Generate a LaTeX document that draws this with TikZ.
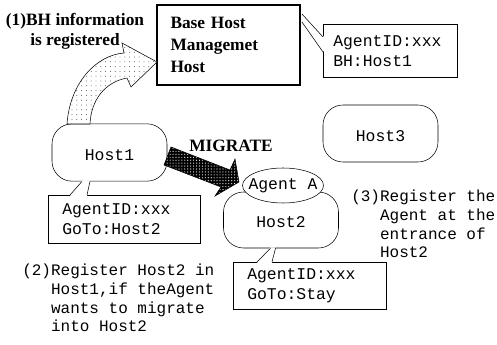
\documentclass[tikz,border=0pt]{standalone}
\usepackage{fontspec}
\setmainfont{Liberation Serif}
\setmonofont{Liberation Mono}
\usetikzlibrary{calc,patterns.meta}

\begin{document}
\begin{tikzpicture}[x=0.75pt,y=-0.75pt,
  hostbox/.style={draw,fill=white,rounded corners=15pt,minimum width=86.25pt,
    text height=14pt,text depth=2.5pt,font=\ttfamily\fontsize{12.3}{15}\selectfont},
  infobox/.style={draw,fill=white,anchor=north west,align=left,inner xsep=10.5pt,
    font=\ttfamily\fontsize{12.3}{15}\selectfont},
  notetext/.style={anchor=north west,align=left,inner sep=0pt,
    font=\ttfamily\fontsize{12}{14}\selectfont},
  heading/.style={inner sep=0pt,font=\bfseries\fontsize{13}{15}\selectfont}]
\useasboundingbox (0,0) rectangle (497,345);

\node[draw,line width=1.6pt,text width=87pt,inner xsep=10pt,minimum height=60pt,align=left,
  font=\bfseries\fontsize{13}{16.5}\selectfont] (bhm) at (228.5,45) {Base Host\\Managemet\\Host};
\node[infobox,inner xsep=7.5pt,text width=85.5pt,minimum height=39.75pt] (bhinfo) at (323,24)
  {AgentID:xxx\\BH:Host1};

\node[hostbox,minimum height=43pt] (host1) at (109.5,152.5) {Host1};
\node[hostbox,minimum height=42.75pt] (host3) at (380.5,133.5) {Host3};
\node[hostbox,minimum height=42pt] (host2) at (281,220) {Host2};
\fill[white,draw=black] (283,185.5) ellipse [x radius=40.5,y radius=17.5];
\node[inner sep=0pt,font=\ttfamily\fontsize{12.3}{15}\selectfont] (agent) at (283,185.5) {Agent A};

\node[infobox,text width=93pt,minimum height=36pt] (h1info) at (48,195) {AgentID:xxx\\GoTo:Host2};
\node[infobox,text width=93.75pt,minimum height=35.25pt] (h2info) at (233,262) {AgentID:xxx\\GoTo:Stay};

% callout tails
\fill[white] ($(bhm.north east)+(1.5,10)$) -- ($(bhinfo.north west)+(1,13)$)
  -- ($(bhinfo.north west)+(1,28)$) -- ($(bhm.north east)+(1.5,18)$) -- cycle;
\draw ($(bhm.north east)+(1,10)$) -- ($(bhinfo.north west)+(0,13)$);
\draw ($(bhm.north east)+(1,18)$) -- ($(bhinfo.north west)+(0,28)$);

\fill[white] ($(host1.south)+(-27.5,-1)$) -- ($(host1.south)+(-19.5,-1)$)
  -- ($(h1info.north west)+(39,1)$) -- ($(h1info.north west)+(22,1)$) -- cycle;
\draw ($(host1.south)+(-27.5,0)$) -- ($(h1info.north west)+(22,0)$);
\draw ($(host1.south)+(-19.5,0)$) -- ($(h1info.north west)+(39,0)$);

\fill[white] ($(host2.south)+(-10.5,-1)$) -- ($(host2.south)+(-5.5,-1)$)
  -- ($(h2info.north west)+(39,1)$) -- ($(h2info.north west)+(24,1)$) -- cycle;
\draw ($(host2.south)+(-10.5,0)$) -- ($(h2info.north west)+(24,0)$);
\draw ($(host2.south)+(-5.5,0)$) -- ($(h2info.north west)+(39,0)$);

% registration arrow and migration arrow
\draw[preaction={fill=white},pattern={Dots[distance=3.6pt,radius=0.35pt]},pattern color=black!75]
  (67,124) .. controls (70,82) and (97,55) .. (124,53) -- (122,43) -- (157,62)
  -- (131,87) -- (127,78) .. controls (105,82) and (91,100) .. (90,124) -- cycle;
\draw[preaction={fill=black},pattern={Dots[distance=2.2pt,radius=0.45pt]},pattern color=white]
  (171,147) -- (230,170) -- (235,159) -- (239,182) -- (215,196) -- (221,187) -- (164,165) -- cycle;

\node[heading,align=center] (regnote) at (75,31) {(1)BH information\\is registered};
\node[heading] (migrate) at (231,146) {MIGRATE};

\node[notetext] (note2) at (22,264) {(2)Register Host2 in\\\phantom{(2)}Host1,if theAgent\\
  \phantom{(2)}wants to migrate\\\phantom{(2)}into Host2};
\node[notetext] (note3) at (351,190) {(3)Register the\\\phantom{(3)}Agent at the\\
  \phantom{(3)}entrance of\\\phantom{(3)}Host2};
\end{tikzpicture}
\end{document}
